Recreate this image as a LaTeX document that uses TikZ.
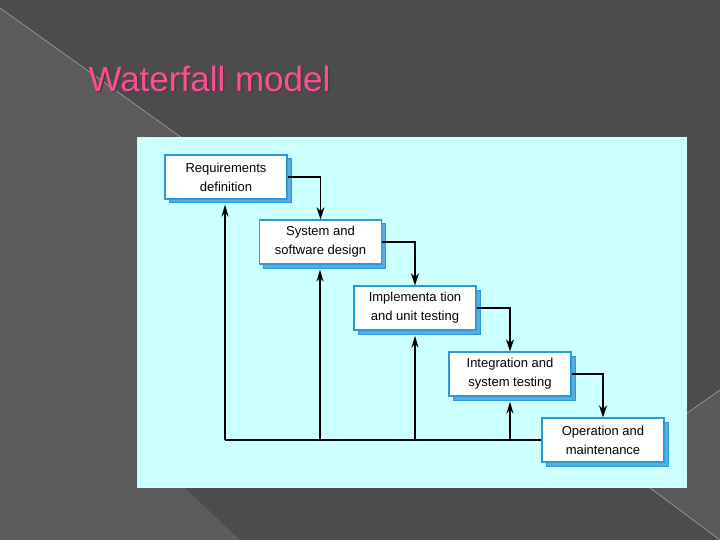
\documentclass[tikz,border=0pt]{standalone}
\usepackage{fontspec}
\setmainfont{Liberation Sans}
\usetikzlibrary{arrows.meta,shadows}
\definecolor{bg}{HTML}{4C4C4C}
\definecolor{bgl}{HTML}{5C5C5C}
\definecolor{panel}{HTML}{CCFFFF}
\definecolor{edge}{HTML}{2A9AD8}
\definecolor{title}{HTML}{FF4F93}
\tikzset{
 phase/.style={draw=edge,line width=1.4pt,fill=white,minimum width=122pt,minimum height=44pt,
   align=center,font=\fontsize{13}{19}\selectfont,inner sep=0pt,
   copy shadow={shadow xshift=4pt,shadow yshift=-4pt,draw=edge,fill=edge!80,line width=1pt}},
 flow/.style={line width=1.3pt,-{Stealth[length=12pt,width=8pt]}},
 back/.style={line width=1.3pt,-{Stealth[length=12pt,width=7pt,inset=4pt]}}
}
\begin{document}
\begin{tikzpicture}[x=1pt,y=-1pt]
\useasboundingbox (0,0) rectangle (720,540);
\fill[bg] (0,0) rectangle (720,540);
\fill[bgl] (0,8) -- (185,140) -- (185,488) -- (240,540) -- (0,540) -- cycle;
\fill[bgl!85!bg] (720,390) -- (580,488) -- (650,488) -- (720,540) -- cycle;
\draw[gray!70,line width=0.6pt] (0,8) -- (185,140);
\draw[gray!70,line width=0.6pt] (580,488) -- (720,390);
\draw[gray!70,line width=0.6pt] (650,488) -- (720,540);
\node[anchor=base west,font=\fontsize{35}{35}\selectfont,text=title] (t) at (85,91.5)
  {\makebox[0pt][l]{\raisebox{-1.5pt}[0pt][0pt]{\hspace{1.5pt}\textcolor{black!75}{Waterfall model}}}Waterfall model};
\fill[panel] (137,137) rectangle (687,488);
\node[phase] (b1) at (226,177) {Requirements\\definition};
\node[phase] (b2) at (320.5,242) {System and\\software design};
\node[phase] (b3) at (415,308) {Implementa tion\\and unit testing};
\node[phase] (b4) at (510,374) {Integration and\\system testing};
\node[phase] (b5) at (603,440) {Operation and\\maintenance};
\draw[flow] (b1.east) -| (b2.north);
\draw[flow] (b2.east) -| (b3.north);
\draw[flow] (b3.east) -| (b4.north);
\draw[flow] (b4.east) -| (b5.north);
\coordinate (c1) at (225,440);
\coordinate (c2) at (320,440);
\coordinate (c3) at (415,440);
\coordinate (c4) at (510,440);
\draw[line width=1.3pt] (b5.west) -- (c1);
\draw[back] (c1) -- ([yshift=-5pt]b1.south -| c1);
\draw[back] (c2) -- ([yshift=-5pt]b2.south -| c2);
\draw[back] (c3) -- ([yshift=-5pt]b3.south -| c3);
\draw[back] (c4) -- ([yshift=-5pt]b4.south -| c4);
\end{tikzpicture}
\end{document}
